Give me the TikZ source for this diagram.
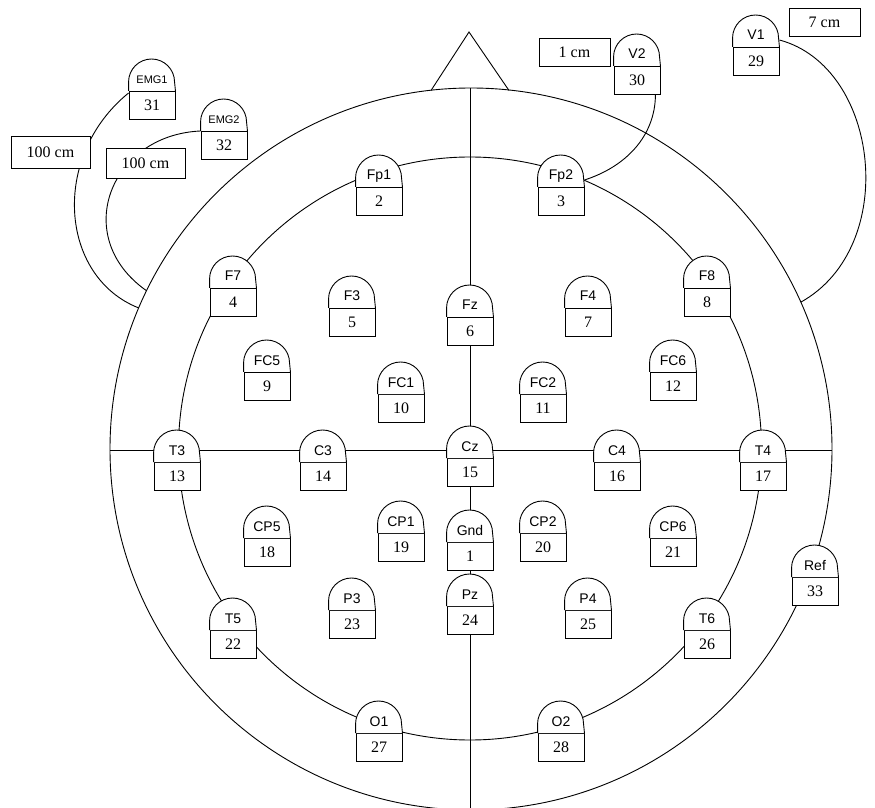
\documentclass[tikz,border=0pt]{standalone}
\usepackage{fontspec}
\setmainfont{Liberation Serif}
\newfontfamily\capfont{Liberation Sans}
\usetikzlibrary{
  calc,
  backgrounds
}
\tikzset{
  numbox/.style={
    draw,
    fill=white,
    inner sep = 0pt,
    minimum width = 46pt,
    minimum height = 28pt,
    anchor = north,
    font=\fontsize{16}{18}\selectfont
  },
  caplabel/.style={
    inner sep = 0pt,
    anchor = base,
    font=\capfont\fontsize{14}{16}\selectfont
  },
  lenbox/.style={
    draw,
    fill=white,
    inner sep = 0pt,
    minimum width = 79pt,
    minimum height = 30pt,
    font=\fontsize{16}{18}\selectfont
  },
  lead/.style={
    line width = 0.9pt
  }
}

% electrode: numbered box with a round cap carrying the name
% #1 extra label options, #2 name, #3 number, #4 top edge of the box
\newcommand{\electrode}[4][]{%
  \node[numbox] (#2) at (#4) {#3};
  \draw[fill=white] (#2.north west) -- ++(0,9)
    arc[start angle=180, end angle=0, radius=23] -- (#2.north east);
  \node[caplabel,#1] (#2-txt) at ([yshift=7pt]#2.north) {#2};
}

\begin{document}
\begin{tikzpicture}[x=1pt, y=1pt, line width=0.9pt]
    \useasboundingbox (0,0) rectangle (875,807);

    % head, nose and mid lines
    \coordinate (c) at (471,358);
    \draw (c) circle[radius=361];
    \draw (470,358.5) circle[radius=291.5];
    \draw (431,716.5) -- (469,775) -- (509,716.5);
    \draw (470,719) -- (470,-5);
    \draw (110,357) -- (832,357);

    \electrode[font=\capfont\fontsize{11}{12}\selectfont]{EMG1}{31}{152,716}
    \electrode[font=\capfont\fontsize{11}{12}\selectfont]{EMG2}{32}{224,676}

    \foreach \n/\num/\pos in {
        V2/30/{637,741}, V1/29/{756,760},
        Fp1/2/{379,620}, Fp2/3/{561,620},
        F7/4/{233,519}, F3/5/{352,499}, Fz/6/{470,490}, F4/7/{588,499}, F8/8/{707,519},
        FC5/9/{267,435}, FC1/10/{401,413}, FC2/11/{543,413}, FC6/12/{673,435},
        T3/13/{177,345}, C3/14/{323,345}, Cz/15/{470,349}, C4/16/{617,345}, T4/17/{763,345},
        CP5/18/{267,269}, CP1/19/{401,274}, Gnd/1/{470,265}, CP2/20/{543,274}, CP6/21/{673,269},
        T5/22/{233,177}, P3/23/{352,197}, Pz/24/{470,201}, P4/25/{588,197}, T6/26/{707,177},
        O1/27/{379,74}, O2/28/{561,74},
        Ref/33/{815,230}}
      \electrode{\n}{\num}{\pos};

    % leads
    \begin{pgfonlayer}{background}
      \draw[lead] ([yshift=-2pt]EMG1.north west) .. controls (50,650) and (60,530) .. ($(c)+(157:361)$);
      \draw[lead] (EMG2.north west) .. controls (110,672) and (70,570) .. ($(c)+(154:361)$);
      \draw[lead] ([yshift=7pt]V1.north east) .. controls (880,740) and (900,560) .. ($(c)+(24:361)$);
      \draw[lead] ([xshift=-5pt]V2.south east) .. controls (655,670) and (625,640) .. ([yshift=7pt]Fp2.north east);
    \end{pgfonlayer}

    \node[lenbox, minimum height=32pt] (lenA) at (50.5,655) {100 cm};
    \node[lenbox] (lenB) at (145.5,643.5) {100 cm};
    \node[lenbox, minimum width=71pt, minimum height=28pt] (lenC) at (574.5,755) {1 cm};
    \node[lenbox, minimum width=71pt, minimum height=28pt] (lenD) at (824.5,785) {7 cm};
\end{tikzpicture}
\end{document}
